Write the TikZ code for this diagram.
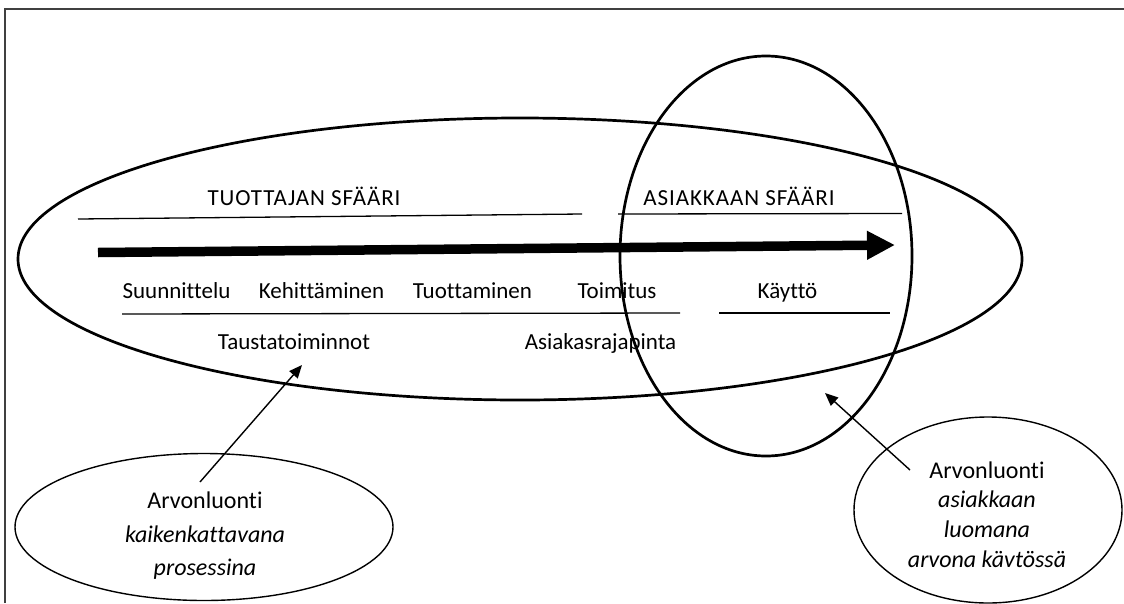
\documentclass[tikz,border=0pt]{standalone}
\usepackage{fontspec}
\setmainfont[Ligatures={NoCommon}]{Carlito}
\usetikzlibrary{arrows.meta,shapes.geometric}
\begin{document}
\begin{tikzpicture}[x=1pt,y=-1pt,
  lbl/.style={inner sep=0pt, anchor=base, font=\fontsize{23}{27}\selectfont},
  title/.style={lbl, font=\fontsize{23}{27}\selectfont\addfontfeature{LetterSpace=4}},
  note/.style={inner sep=0pt, anchor=base, font=\fontsize{24}{28}\selectfont},
  rulebar/.style={line width=1.3pt},
  sphere/.style={draw, ellipse, inner sep=0pt, line width=2.7pt},
  bubble/.style={draw, ellipse, inner sep=0pt, line width=1.4pt},
  pointer/.style={line width=1.4pt, -{Triangle[length=13pt,width=11pt]}},
  flow/.style={line width=9.5pt, -{Triangle[length=28pt,width=27pt]}}]
\useasboundingbox (0,0) rectangle (1124,603);

% frame edges
\draw[line width=1.5pt, black!75] (5,603) -- (5,9) -- (1124,9);

% the two spheres
\node[sphere, minimum width=1004pt, minimum height=282pt] (producer) at (520,259) {};
\node[sphere, minimum width=292pt, minimum height=400pt] (customer) at (766,256) {};

% sphere titles and their rules
\node[title] (ptitle) at (304,205) {TUOTTAJAN SFÄÄRI};
\node[title] (ctitle) at (739,205) {ASIAKKAAN SFÄÄRI};
\coordinate (r1a) at (78,219);  \coordinate (r1b) at (582,214);
\coordinate (r2a) at (618,214); \coordinate (r2b) at (902,213.5);
\draw[rulebar] (r1a) -- (r1b);
\draw[rulebar] (r2a) -- (r2b);

% main process flow
\coordinate (fstart) at (98,252.5);
\coordinate (fend) at (895,245);
\draw[flow] (fstart) -- (fend);

% process stages
\node[lbl] (s1) at (176.5,298) {Suunnittelu};
\node[lbl] (s2) at (321.5,298) {Kehittäminen};
\node[lbl] (s3) at (472.5,298) {Tuottaminen};
\node[lbl] (s4) at (617,298) {Toimitus};
\node[lbl] (s5) at (787.5,298) {Käyttö};
\coordinate (r3a) at (122,314); \coordinate (r3b) at (680,313);
\coordinate (r4a) at (719,313); \coordinate (r4b) at (890,313);
\draw[rulebar] (r3a) -- (r3b);
\draw[rulebar] (r4a) -- (r4b);
\node[lbl] (back) at (294,349) {Taustatoiminnot};
\node[lbl] (iface) at (600.5,349) {Asiakasrajapinta};

% value creation bubbles
\node[bubble, minimum width=378pt, minimum height=147pt] (vleft) at (204,527) {};
\node[note] (vl1) at (205,508) {Arvonluonti};
\node[note] (vl2) at (205,542) {\itshape kaikenkattavana};
\node[note] (vl3) at (205,575) {\itshape prosessina};

\node[bubble, minimum width=268pt, minimum height=186pt] (vright) at (988,510) {};
\node[note] (vr1) at (987,478) {Arvonluonti};
\node[note] (vr2) at (987,507) {\itshape asiakkaan};
\node[note] (vr3) at (987,537) {\itshape luomana};
\node[note] (vr4) at (987,567) {\itshape arvona kävtössä};

% pointers from the bubbles
\coordinate (pl) at (200,482); \coordinate (plh) at (302,365);
\coordinate (pr) at (910,470); \coordinate (prh) at (825,393);
\draw[pointer] (pl) -- (plh);
\draw[pointer] (pr) -- (prh);
\end{tikzpicture}
\end{document}
